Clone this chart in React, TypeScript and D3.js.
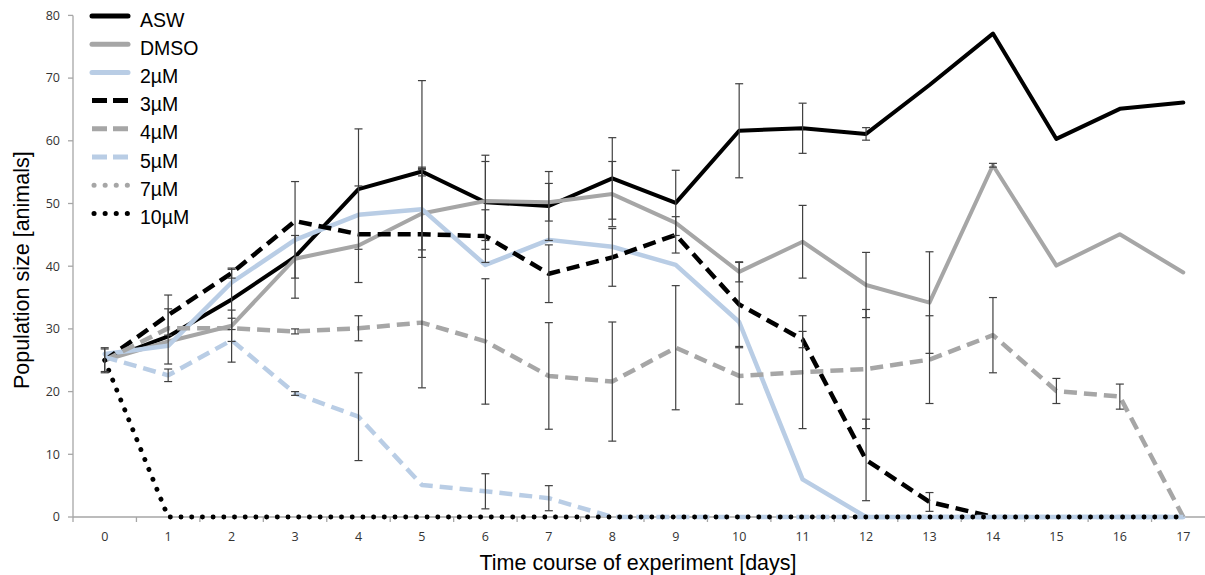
import React from "react";
import * as d3 from "d3";

const days = [0, 1, 2, 3, 4, 5, 6, 7, 8, 9, 10, 11, 12, 13, 14, 15, 16, 17];
const yTicks = [0, 10, 20, 30, 40, 50, 60, 70, 80];

const seriesNames = ["ASW", "DMSO", "2µM", "3µM", "4µM", "5µM", "7µM", "10µM"];

const asw = [25, 28.8, 34.7, 41.5, 52.3, 55.1, 50.2, 49.6, 54, 50.1, 61.6, 62, 61.1, 68.9, 77.1, 60.3, 65.1, 66.1];
const dmso = [25, 28, 30.5, 41.2, 43.3, 48.4, 50.4, 50.2, 51.5, 46.9, 39.1, 43.9, 37, 34.2, 56.1, 40.1, 45.1, 39];
const um2 = [26, 27.3, 37.4, 44.2, 48.2, 49.1, 40.2, 44.2, 43.1, 40.2, 31.1, 6, 0, 0, 0, 0, 0, 0];
const um3 = [25, 32.2, 38.9, 47.2, 45.1, 45.1, 44.8, 38.8, 41.4, 45, 33.9, 28.3, 9.1, 2.4, 0, null, null, null];
const um4 = [25, 30.1, 30.1, 29.6, 30.1, 31, 28, 22.5, 21.6, 27, 22.5, 23.1, 23.6, 25.1, 29, 20.1, 19.2, 0];
const um5 = [25.5, 22.6, 28.2, 19.7, 16, 5.1, 4.1, 3, 0, 0, 0, 0, 0, 0, 0, 0, 0, 0];
const um7 = [25, 0, 0, 0, 0, 0, 0, 0, 0, 0, 0, 0, 0, 0, 0, 0, 0, 0];
const um10 = [25, 0, 0, 0, 0, 0, 0, 0, 0, 0, 0, 0, 0, 0, 0, 0, 0, 0];

// half-widths of error bars (null = none)
const aswErr = [2, 4.4, 4.8, 3.4, 9.6, 0.7, 7.5, 5.5, 6.5, 5.2, 7.5, 4, 1, null, null, null, null, null];
const dmsoErr = [1.8, null, 2.5, null, null, 7, 6.3, 3, 5.2, null, 1.6, 5.8, 5.2, 8.1, 0.3, null, null, null];
const um2Err = [null, null, null, 9.3, null, 6.5, null, null, null, null, null, null, null, null, null, null, null, null];
const um3Err = [null, 3.2, 0.8, null, 7.7, 24.5, 4.2, 4.6, 4.6, 2.9, 6.7, 1.3, 6.5, 1.5, null, null, null, null];
const um4Err = [null, null, null, 0.4, 2, null, 10, 8.5, 9.5, 9.9, 4.5, 9, 9.5, 7, 6, 2, 2, null];
const um5Err = [null, 1, 3.5, 0.3, 7, null, 2.8, 2, null, null, null, null, null, null, null, null, null, null];
const noErr: (number | null)[] = days.map(() => null);

const seriesValues: (number | null)[][] = [asw, dmso, um2, um3, um4, um5, um7, um10];
const seriesErrors = [aswErr, dmsoErr, um2Err, um3Err, um4Err, um5Err, noErr, noErr];

const BLACK = "#000000";
const GRAY = "#a6a6a6";
const BLUE = "#b9cde5";

const styles = [
  { color: BLACK, width: 4, dash: "", cap: "round" },
  { color: GRAY, width: 4, dash: "", cap: "round" },
  { color: BLUE, width: 4.5, dash: "", cap: "round" },
  { color: BLACK, width: 4.5, dash: "13,7", cap: "butt" },
  { color: GRAY, width: 4.5, dash: "13,7", cap: "butt" },
  { color: BLUE, width: 4.5, dash: "13,7", cap: "butt" },
  { color: GRAY, width: 4.5, dash: "0.1,10.6", cap: "round" },
  { color: BLACK, width: 4.8, dash: "0.1,10.6", cap: "round" },
];

export default function App() {
  const W = 1205;
  const H = 575;
  const x = d3.scaleBand<number>().domain(days).range([73, 1215]).padding(0);
  const xc = (d: number) => (x(d) as number) + x.bandwidth() / 2;
  const y = d3.scaleLinear().domain([0, 80]).range([517, 15.4]);
  const line = d3
    .line<number | null>()
    .defined((v) => v !== null)
    .x((_, i) => xc(days[i]))
    .y((v) => y(v as number));

  const tickFont = "'Open Sans', 'Liberation Sans', sans-serif";
  const labelFont = "'Liberation Sans', Arial, sans-serif";

  return (
    <svg
      width={W}
      height={H}
      style={{ position: "absolute", left: 0, top: 0, background: "#fff" }}
    >
      <rect x={0} y={0} width={W} height={H} fill="#fff" />
      {/* y axis */}
      <line x1={73} x2={73} y1={y(80)} y2={y(0)} stroke={GRAY} strokeWidth={1.3} />
      {yTicks.map((t) => (
        <g key={t}>
          <line x1={68} x2={73} y1={y(t)} y2={y(t)} stroke={GRAY} strokeWidth={1.3} />
          <text
            x={60}
            y={y(t)}
            dy="0.35em"
            textAnchor="end"
            fontFamily={tickFont}
            fontSize={12.5}
            fill="#333"
          >
            {t}
          </text>
        </g>
      ))}
      {/* x axis */}
      <line x1={73} x2={1215} y1={y(0)} y2={y(0)} stroke={GRAY} strokeWidth={1.3} />
      {days.map((d) => (
        <g key={d}>
          <line
            x1={x(d) as number}
            x2={x(d) as number}
            y1={y(0)}
            y2={y(0) + 5}
            stroke={GRAY}
            strokeWidth={1.3}
          />
          <text
            x={xc(d)}
            y={541}
            textAnchor="middle"
            fontFamily={tickFont}
            fontSize={12.5}
            fill="#333"
          >
            {d}
          </text>
        </g>
      ))}

      {/* lines */}
      {seriesValues.map((vals, si) => (
        <path
          key={seriesNames[si]}
          d={line(vals) || ""}
          fill="none"
          stroke={styles[si].color}
          strokeWidth={styles[si].width}
          strokeDasharray={styles[si].dash || undefined}
          strokeLinecap={styles[si].cap as any}
          strokeLinejoin="round"
        />
      ))}

      {/* error bars */}
      {seriesErrors.map((errs, si) =>
        errs.map((e, i) => {
          const v = seriesValues[si][i];
          if (e === null || e === undefined || v === null) return null;
          const cx = xc(days[i]);
          const y1 = y(v + e);
          const y2 = y(Math.max(0, v - e));
          return (
            <g key={`${si}-${i}`} stroke="#404040" strokeWidth={1.2}>
              <line x1={cx} x2={cx} y1={y1} y2={y2} />
              <line x1={cx - 4} x2={cx + 4} y1={y1} y2={y1} />
              <line x1={cx - 4} x2={cx + 4} y1={y2} y2={y2} />
            </g>
          );
        })
      )}

      {/* legend */}
      {seriesNames.map((name, si) => {
        const ly = 16 + si * 28.2;
        return (
          <g key={name}>
            <line
              x1={styles[si].cap === "round" && styles[si].dash ? 94 : 92}
              x2={128}
              y1={ly}
              y2={ly}
              stroke={styles[si].color}
              strokeWidth={5}
              strokeDasharray={styles[si].dash ? (styles[si].dash === "13,7" ? "15,6" : "0.1,11") : undefined}
              strokeLinecap={styles[si].cap as any}
            />
            <text x={140} y={ly + 10.5} fontFamily={labelFont} fontSize={19.5} fill="#000">
              {name}
            </text>
          </g>
        );
      })}

      {/* axis titles */}
      <text
        x={638}
        y={570}
        textAnchor="middle"
        fontFamily={labelFont}
        fontSize={21.5}
        fill="#000"
      >
        Time course of experiment [days]
      </text>
      <text
        transform={`translate(29, ${y(40) + 4}) rotate(-90)`}
        textAnchor="middle"
        fontFamily={labelFont}
        fontSize={21.5}
        fill="#000"
      >
        Population size [animals]
      </text>
    </svg>
  );
}
